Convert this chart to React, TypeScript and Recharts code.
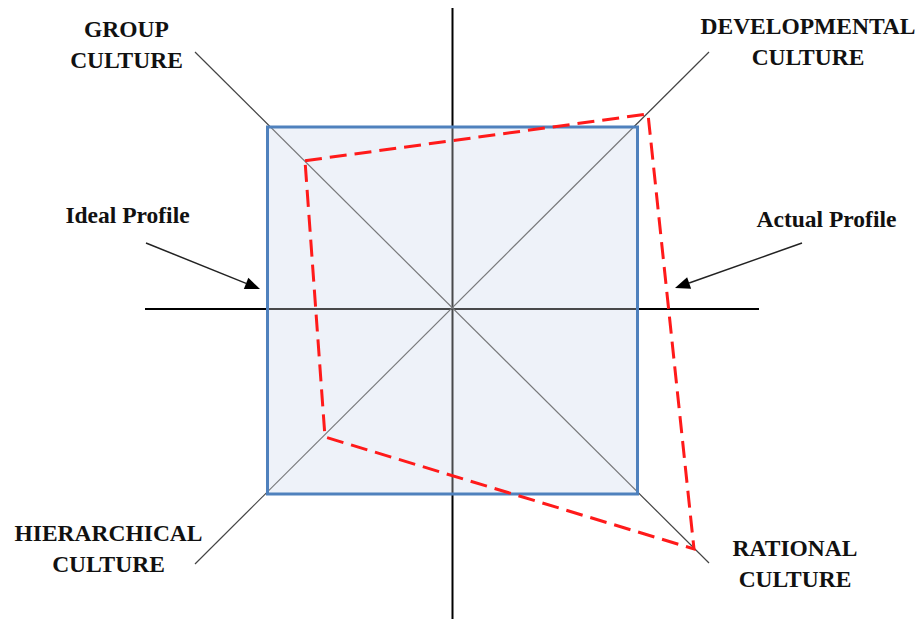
import React from 'react';
import {
  ScatterChart,
  Scatter,
  XAxis,
  YAxis,
  ReferenceArea,
  ReferenceLine,
  ReferenceDot,
} from 'recharts';

// ---- data ----
const cultures = ['GROUP CULTURE', 'DEVELOPMENTAL CULTURE', 'RATIONAL CULTURE', 'HIERARCHICAL CULTURE'];
// ideal profile (square corners), in chart units, order as cultures
const idealX = [-185, 185, 185, -185];
const idealY = [182, 182, -185, -185];
// actual profile corners, order as cultures
const actualX = [-147.5, 195.5, 241.5, -127.5];
const actualY = [148.3, 195, -240, -128];
const profileNames = ['Ideal Profile', 'Actual Profile'];

// ---- frame (axes, diagonals, annotation anchors) ----
const xDomain = [-452.5, 469.5];
const yDomain = [-310, 309];
const hAxis = [{ x: -307.5, y: 0 }, { x: 306.5, y: 0 }];
const vAxis = [{ x: 0, y: 301 }, { x: 0, y: -310 }];
const diagStart = [{ x: -257.5, y: 257 }, { x: 256.5, y: 257 }];
const diagEnd = [{ x: 256.5, y: -254 }, { x: -257.5, y: -255 }];
const cultureLabelPos = [
  { x: -326, y: 272 },
  { x: 355.5, y: 275 },
  { x: 342.5, y: -247 },
  { x: -344, y: -232 },
];
const profileLabelPos = [{ x: -325, y: 86 }, { x: 374, y: 82 }];
const arrowStart = [{ x: -306.5, y: 66 }, { x: 349.5, y: 66 }];
const arrowEnd = [{ x: -192.5, y: 20 }, { x: 222.5, y: 21 }];

const actualData = [...actualX.map((x, i) => ({ x, y: actualY[i], name: cultures[i] })), { x: actualX[0], y: actualY[0], name: cultures[0] }];

const FONT = "'Liberation Serif', 'Times New Roman', serif";
const FILL = '#eef2f9';

const renderLabel = (lines: string[]) => (p: any) => (
  <text
    x={p.cx}
    y={p.cy}
    textAnchor="middle"
    fontFamily={FONT}
    fontWeight="bold"
    fontSize={23.5}
    fill="#111"
  >
    {lines.map((l, i) => (
      <tspan key={i} x={p.cx} dy={i === 0 ? 0 : 31}>
        {l}
      </tspan>
    ))}
  </text>
);

const arrowShape = (p: any) => {
  const { x1, y1, x2, y2 } = p;
  const ang = Math.atan2(y2 - y1, x2 - x1);
  const L = 15;
  const W = 6;
  const bx = x2 - L * Math.cos(ang);
  const by = y2 - L * Math.sin(ang);
  const px = -Math.sin(ang) * W;
  const py = Math.cos(ang) * W;
  return (
    <g>
      <line x1={x1} y1={y1} x2={bx} y2={by} stroke="#222" strokeWidth={1.5} />
      <polygon points={`${x2},${y2} ${bx + px},${by + py} ${bx - px},${by - py}`} fill="#000" />
    </g>
  );
};

export default function App() {
  const sqX1 = Math.min(...idealX);
  const sqX2 = Math.max(...idealX);
  const sqY1 = Math.min(...idealY);
  const sqY2 = Math.max(...idealY);
  return (
    <div style={{ position: 'absolute', left: 0, top: 0, width: 922, height: 619, background: '#fff' }}>
      <ScatterChart width={922} height={619} margin={{ top: 0, right: 0, bottom: 0, left: 0 }}>
        <XAxis type="number" dataKey="x" domain={xDomain} hide allowDataOverflow />
        <YAxis type="number" dataKey="y" domain={yDomain} hide allowDataOverflow />
        <ReferenceArea
          x1={sqX1}
          x2={sqX2}
          y1={sqY1}
          y2={sqY2}
          fill={FILL}
          fillOpacity={1}
          stroke="none"
          zIndex={10}
        />
        <ReferenceLine segment={hAxis} stroke="#000" strokeWidth={2} zIndex={20} />
        <ReferenceLine segment={vAxis} stroke="#000" strokeWidth={2} zIndex={20} />
        {diagStart.map((s, i) => (
          <ReferenceLine key={'d' + i} segment={[s, diagEnd[i]]} stroke="#444" strokeWidth={1.2} zIndex={20} />
        ))}
        <ReferenceArea
          x1={sqX1}
          x2={sqX2}
          y1={sqY1}
          y2={sqY2}
          fill={FILL}
          fillOpacity={0.3}
          stroke="none"
          zIndex={30}
        />
        <ReferenceArea
          x1={sqX1}
          x2={sqX2}
          y1={sqY1}
          y2={sqY2}
          fill="none"
          stroke="#4f81bd"
          strokeWidth={3}
          zIndex={40}
        />
        <Scatter
          name="Actual Profile"
          data={actualData}
          line={{ stroke: '#ff1a1a', strokeWidth: 3, strokeDasharray: '17 8' }}
          lineType="joint"
          shape={() => <g />}
          isAnimationActive={false}
          zIndex={50}
        />
        {arrowStart.map((s, i) => (
          <ReferenceLine key={'a' + i} segment={[s, arrowEnd[i]]} shape={arrowShape} zIndex={60} />
        ))}
        {cultures.map((c, i) => (
          <ReferenceDot
            key={'c' + i}
            x={cultureLabelPos[i].x}
            y={cultureLabelPos[i].y}
            r={0}
            shape={renderLabel(c.split(' '))}
            zIndex={70}
          />
        ))}
        {profileNames.map((n, i) => (
          <ReferenceDot
            key={'p' + i}
            x={profileLabelPos[i].x}
            y={profileLabelPos[i].y}
            r={0}
            shape={renderLabel([n])}
            zIndex={70}
          />
        ))}
      </ScatterChart>
    </div>
  );
}
